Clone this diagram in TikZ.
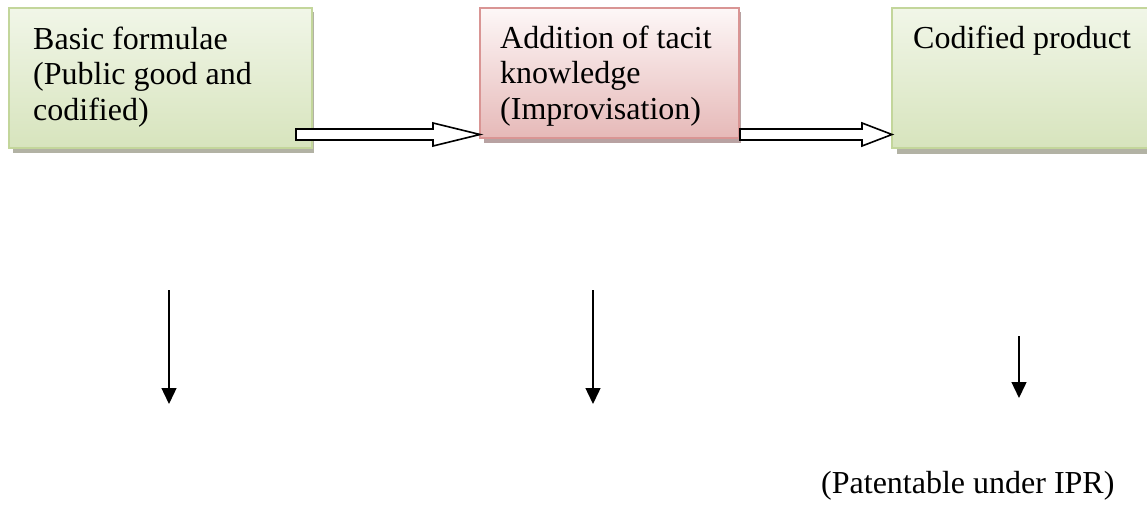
\documentclass[tikz,border=0pt]{standalone}
\usepackage{fontspec}
\setmainfont{Liberation Serif}
\usetikzlibrary{arrows.meta}
\definecolor{gtop}{HTML}{F1F6E8}
\definecolor{gbot}{HTML}{D7E4BD}
\definecolor{gline}{HTML}{C3D69B}
\definecolor{rtop}{HTML}{FDF7F7}
\definecolor{rbot}{HTML}{E6B9B8}
\definecolor{rline}{HTML}{D99594}
\definecolor{gshadow}{HTML}{B2B2A4}
\definecolor{rshadow}{HTML}{B8A2A2}
\tikzset{
  box/.style={inner sep=0pt, outer sep=0pt, anchor=north west, line width=1.8pt},
  greenbox/.style={box, draw=gline, top color=gtop, bottom color=gbot},
  redbox/.style={box, draw=rline, top color=rtop, bottom color=rbot},
  shadowg/.style={fill=gshadow},
  shadowr/.style={fill=rshadow},
  txt/.style={inner sep=0pt, anchor=north west, align=left, font=\fontsize{32}{35.5}\selectfont},
  blockarrow/.style={draw=black, fill=white, line width=1.6pt, line join=miter},
  downarrow/.style={draw=black, line width=1.4pt, -{Triangle[width=15pt,length=16pt]}}
}
\begin{document}
\begin{tikzpicture}[x=1pt,y=-1pt]
\useasboundingbox (0,0) rectangle (1147,513);
\clip (0,0) rectangle (1147,513);
% shadows
\fill[shadowg] (13,12) rectangle (314,153);
\fill[shadowr] (484,12) rectangle (741,143);
\fill[shadowg] (897,12) rectangle (1160,154);
% boxes
\node[greenbox, minimum width=303pt, minimum height=140pt] (b1) at (9,8) {};
\node[redbox, minimum width=259pt, minimum height=130pt] (b2) at (480,8) {};
\node[greenbox, minimum width=270pt, minimum height=140pt] (b3) at (892,8) {};
% texts
\node[txt] (t1) at (33,26.5) {Basic formulae\\(Public good and\\codified)};
\node[txt] (t2) at (500,25.5) {Addition of tacit\\knowledge\\(Improvisation)};
\node[txt] (t3) at (913,25.5) {Codified product};
\node[txt, anchor=base west] (t4) at (821,493) {(Patentable under IPR)};
% block arrows
\draw[blockarrow] (296,129) -- (433,129) -- (433,123) -- (b2.west |- 0,134.5) -- (433,146) -- (433,140) -- (296,140) -- cycle;
\draw[blockarrow] (740,129) -- (862,129) -- (862,123) -- (b3.west |- 0,134.5) -- (862,146) -- (862,140) -- (740,140) -- cycle;
% down arrows
\coordinate (d1s) at (169,290);
\coordinate (d1e) at (169,404);
\coordinate (d2s) at (593,290);
\coordinate (d2e) at (593,404);
\coordinate (d3s) at (1019,336);
\coordinate (d3e) at (1019,398);
\draw[downarrow] (d1s) -- (d1e);
\draw[downarrow] (d2s) -- (d2e);
\draw[downarrow] (d3s) -- (d3e);
\end{tikzpicture}
\end{document}
